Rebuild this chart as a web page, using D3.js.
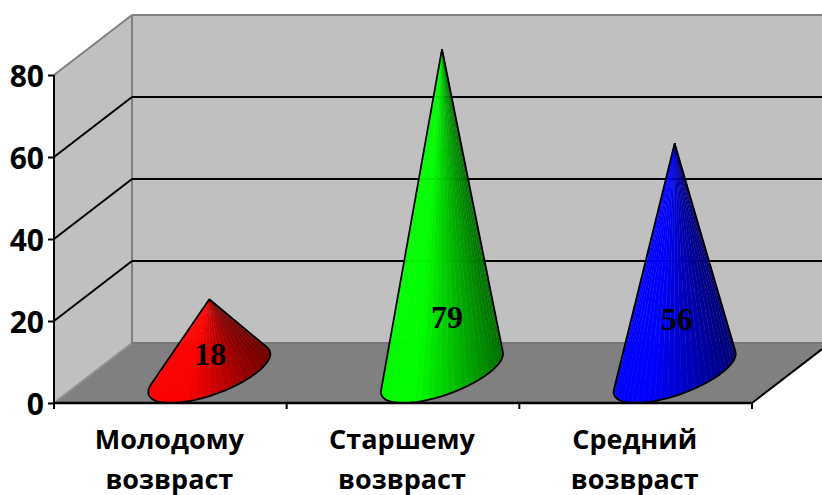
<!DOCTYPE html>
<html><head><meta charset="utf-8">
<script src="https://cdn.jsdelivr.net/npm/d3@7/dist/d3.min.js"></script>
<style>html,body{margin:0;padding:0;background:#fff}svg{display:block}</style>
</head><body><svg id="c" width="822" height="495"></svg>
<script>
const categories = [["Молодому","возвраст"],["Старшему","возвраст"],["Средний","возвраст"]];
const values = [18,79,56];
const yTicks = [0,20,40,60,80];
const lightColors = ["#ff0000","#00ff00","#0000ff"];
const darkColors = ["#720000","#006e00","#000074"];

const svg = d3.select("#c");
const depth = {x:78,y:-60};
const x0=54,x1=752,y0=403,y80=75,W=822;
const y = d3.scaleLinear().domain([0,80]).range([y0,y80]);
const x = d3.scaleBand().domain(d3.range(values.length)).range([x0,x1]);
const backY = v => y(v)+depth.y;
const poly=(pts,fill,stroke)=>svg.append("polygon").attr("points",pts.map(p=>p.join(",")).join(" ")).attr("fill",fill)
  .attr("stroke",stroke||"none").attr("stroke-width",stroke?0.3:null);

// walls
poly([[x0+depth.x,backY(80)],[W,backY(80)],[W,backY(0)],[x0+depth.x,backY(0)]],"#c0c0c0");
poly([[x0,y(80)],[x0+depth.x,backY(80)],[x0+depth.x,backY(0)],[x0,y0]],"#c0c0c0");
poly([[x0,y0],[x0+depth.x,backY(0)],[W,backY(0)],[W,y0-(W-x1)*(-depth.y/depth.x)],[x1,y0]],"#808080");
const seg=(a,b,c,d,col,w)=>svg.append("line").attr("x1",a).attr("y1",b).attr("x2",c).attr("y2",d).attr("stroke",col).attr("stroke-width",w);
seg(x0,y(80),x0+depth.x,backY(80),"#808080",2);
seg(x0+depth.x,backY(80),W,backY(80),"#808080",2);
seg(x0+depth.x,backY(80),x0+depth.x,backY(0),"#808080",2);
seg(x0,y0,x0+depth.x,backY(0),"#909090",2);
seg(x0+depth.x,backY(0),W,backY(0),"#777777",2);
yTicks.filter(v=>v>0&&v<80).forEach(v=>{
  seg(x0,y(v),x0+depth.x,backY(v),"#000",2);
  seg(x0+depth.x,backY(v),W,backY(v),"#000",2);
});
seg(x1,y0,W,y0-(W-x1)*(-depth.y/depth.x),"#000",2);

// cones
const rx=47, dx=depth.x/2, dy=depth.y/2;
values.forEach((v,i)=>{
  const cx=x(i)+x.bandwidth()/2+dx, cy=y0+dy;
  const apex=[cx,y(v)+dy];
  const pt=t=>[cx+rx*Math.cos(t)+dx*Math.sin(t), cy+dy*Math.sin(t)];
  const ts=d3.range(0,720).map(k=>k/720*2*Math.PI);
  const ang=t=>{const p=pt(t);return Math.atan2(p[0]-apex[0],p[1]-apex[1]);};
  const tR=ts[d3.greatestIndex(ts,ang)], tL=ts[d3.leastIndex(ts,ang)];
  const low=Math.PI*1.5;
  const norm=t=>{while(t<low-Math.PI)t+=2*Math.PI;while(t>low+Math.PI)t-=2*Math.PI;return t;};
  const a=norm(tL),b=norm(tR);
  const n=30;
  const arc=d3.range(n+1).map(k=>pt(a+(b-a)*k/n));
  const col=d3.scaleLinear().domain([cx-60,cx-25,cx+62]).range([lightColors[i],lightColors[i],darkColors[i]]).clamp(true);
  d3.range(n).forEach(k=>{
    const m=(arc[k][0]+arc[k+1][0])/2;
    const c=col(m);
    poly([apex,arc[k],arc[k+1]],c,c);
  });
  svg.append("path").attr("d",d3.line()([apex,...arc,apex])).attr("fill","none")
    .attr("stroke","#000").attr("stroke-width",1.8).attr("stroke-linejoin","round");
});

// axes
const yAxis=d3.axisLeft(y).tickValues(yTicks).tickSize(6).tickPadding(4);
const gy=svg.append("g").attr("transform",`translate(${x0},0)`).call(yAxis);
gy.selectAll("path,line").attr("stroke","#000").attr("stroke-width",2);
gy.selectAll("text").attr("font-family","'Open Sans'").attr("font-weight",700).attr("font-size",30).attr("fill","#000").attr("dy","0.62em").attr("y",-7);
gy.select("path").attr("d",`M0,${y(80)}V${y0}`);

const xAxis=d3.axisBottom(x).tickSize(0).tickFormat(()=>"");
const gx=svg.append("g").attr("transform",`translate(0,${y0})`).call(xAxis);
gx.select("path").attr("d",`M${x0},0H${x1}`).attr("stroke","#000").attr("stroke-width",2.4);
gx.selectAll(".tick").remove();
d3.range(values.length+1).forEach(k=>{
  const p=k<values.length?x(k):x1;
  seg(p,y0,p,y0+6,"#000",2);
});
categories.forEach((c,i)=>{
  const t=svg.append("text").attr("text-anchor","middle").attr("font-family","'Open Sans'")
    .attr("font-weight",700).attr("font-size",27).attr("fill","#000");
  c.forEach((s,j)=>t.append("tspan").attr("x",x(i)+x.bandwidth()/2-1).attr("y",449+j*39.5).text(s));
});

// data labels
const labelShift=[[2,-19],[6,-56],[3,-54]];
values.forEach((v,i)=>{
  svg.append("text").attr("x",x(i)+x.bandwidth()/2+dx+labelShift[i][0]-1).attr("y",y0+dy+labelShift[i][1]+11)
    .attr("text-anchor","middle").attr("font-family","'Liberation Serif'").attr("font-weight",700)
    .attr("font-size",32).attr("fill","#000").text(v);
});
</script></body></html>
